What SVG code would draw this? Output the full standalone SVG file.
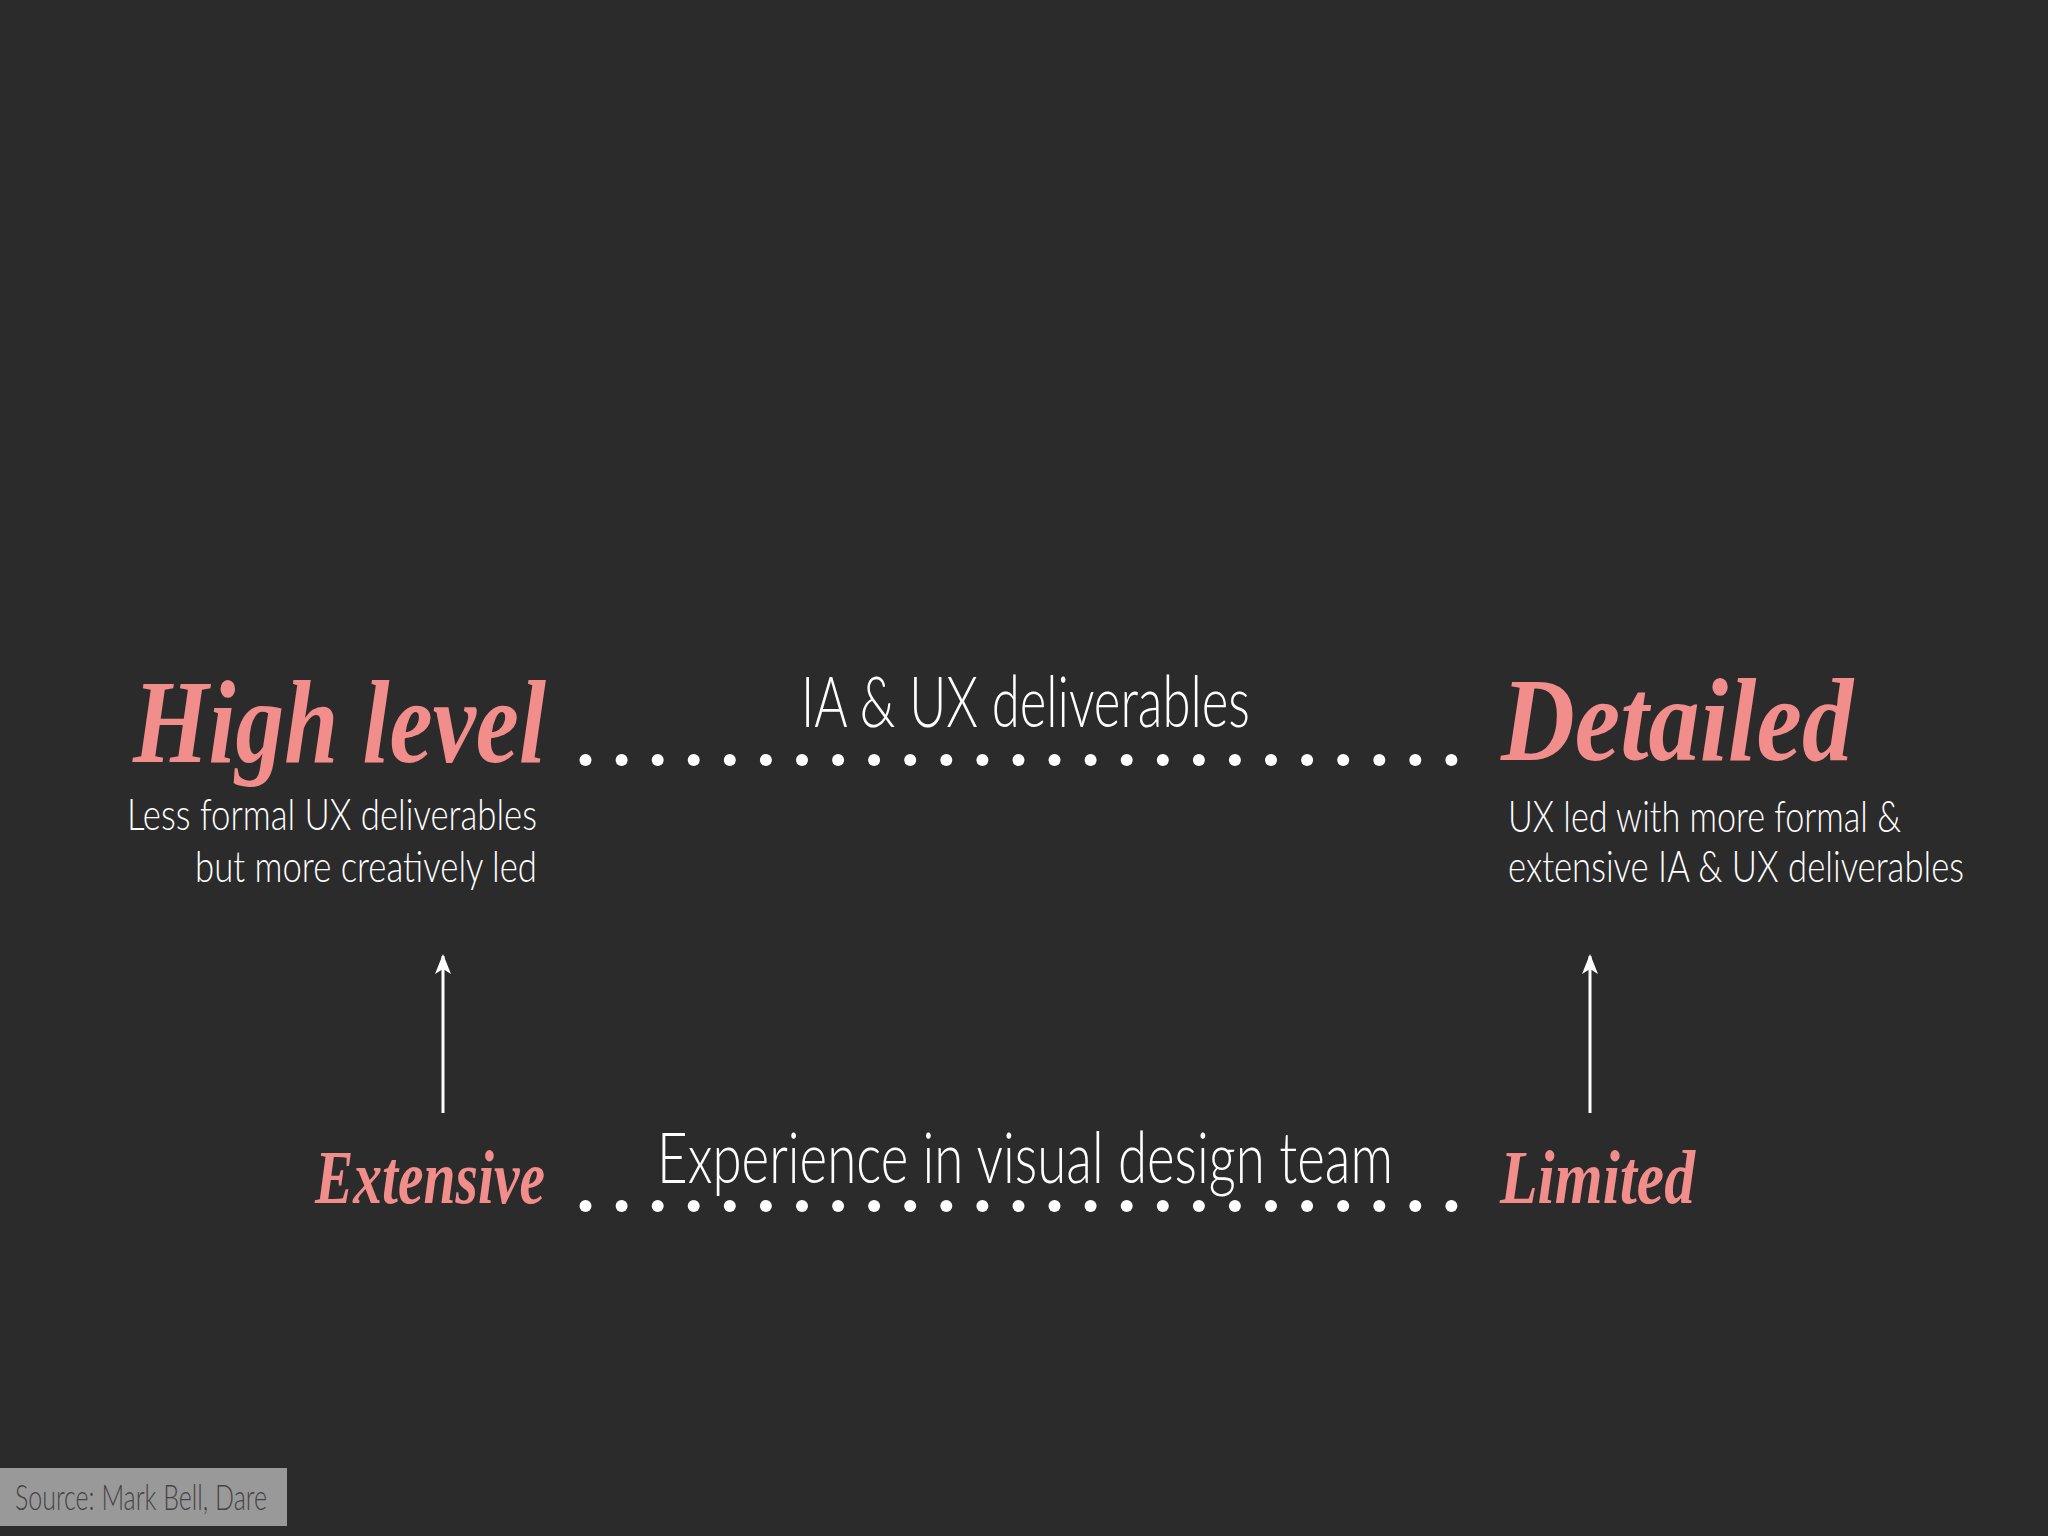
<svg xmlns="http://www.w3.org/2000/svg" width="2048" height="1536" viewBox="0 0 2048 1536">
  <defs>
    <style>
      .script { font-family: "Liberation Serif", "DejaVu Serif", serif; font-style: italic; font-weight: bold; fill: #F18D8B; }
      .thin { font-family: Lato, "Open Sans", "Liberation Sans", sans-serif; font-weight: 300; fill: #FFFFFF; }
      .dot { fill: #FFFFFF; }
      .arrow { stroke: #FFFFFF; stroke-width: 3; fill: none; }
    </style>
    <marker id="head" viewBox="0 0 20 20" refX="18" refY="10" markerWidth="20" markerHeight="20" markerUnits="userSpaceOnUse" orient="auto">
      <path d="M0,2 L20,10 L0,18 L5,10 Z" fill="#FFFFFF"/>
    </marker>
    <pattern id="dots" x="576.5" y="0" width="36.08" height="1536" patternUnits="userSpaceOnUse">
      <circle cx="9" cy="0" r="6" class="dot"/>
    </pattern>
  </defs>
  <rect width="2048" height="1536" fill="#2C2B2C"/>

  <g id="high-level">
    <text class="script" x="133" y="762" font-size="118" textLength="413" lengthAdjust="spacingAndGlyphs">High level</text>
    <text class="thin" x="537" y="830" font-size="44" text-anchor="end" textLength="410" lengthAdjust="spacingAndGlyphs">Less formal UX deliverables</text>
    <text class="thin" x="537" y="882" font-size="44" text-anchor="end" textLength="342" lengthAdjust="spacingAndGlyphs">but more creatively led</text>
  </g>

  <g id="detailed">
    <text class="script" x="1501" y="760" font-size="118" textLength="352" lengthAdjust="spacingAndGlyphs">Detailed</text>
    <text class="thin" x="1508" y="832" font-size="44" textLength="393" lengthAdjust="spacingAndGlyphs">UX led with more formal &amp;</text>
    <text class="thin" x="1508" y="882" font-size="44" textLength="456" lengthAdjust="spacingAndGlyphs">extensive IA &amp; UX deliverables</text>
  </g>

  <g id="ia-ux">
    <text class="thin" x="801" y="727" font-size="70" textLength="449" lengthAdjust="spacingAndGlyphs">IA &amp; UX deliverables</text>
  </g>

  <g id="experience">
    <text class="thin" x="657" y="1183" font-size="70" textLength="736" lengthAdjust="spacingAndGlyphs">Experience in visual design team</text>
  </g>

  <g id="extensive">
    <text class="script" x="315" y="1203" font-size="76" textLength="230" lengthAdjust="spacingAndGlyphs">Extensive</text>
  </g>

  <g id="limited">
    <text class="script" x="1500" y="1203" font-size="76" textLength="195" lengthAdjust="spacingAndGlyphs">Limited</text>
  </g>

  <g id="connectors">
    <g id="dots-top">
      <circle class="dot" cx="585.5" cy="760" r="6"/><circle class="dot" cx="621.6" cy="760" r="6"/><circle class="dot" cx="657.7" cy="760" r="6"/><circle class="dot" cx="693.7" cy="760" r="6"/><circle class="dot" cx="729.8" cy="760" r="6"/><circle class="dot" cx="765.9" cy="760" r="6"/><circle class="dot" cx="802.0" cy="760" r="6"/><circle class="dot" cx="838.1" cy="760" r="6"/><circle class="dot" cx="874.1" cy="760" r="6"/><circle class="dot" cx="910.2" cy="760" r="6"/><circle class="dot" cx="946.3" cy="760" r="6"/><circle class="dot" cx="982.4" cy="760" r="6"/><circle class="dot" cx="1018.5" cy="760" r="6"/><circle class="dot" cx="1054.5" cy="760" r="6"/><circle class="dot" cx="1090.6" cy="760" r="6"/><circle class="dot" cx="1126.7" cy="760" r="6"/><circle class="dot" cx="1162.8" cy="760" r="6"/><circle class="dot" cx="1198.9" cy="760" r="6"/><circle class="dot" cx="1234.9" cy="760" r="6"/><circle class="dot" cx="1271.0" cy="760" r="6"/><circle class="dot" cx="1307.1" cy="760" r="6"/><circle class="dot" cx="1343.2" cy="760" r="6"/><circle class="dot" cx="1379.3" cy="760" r="6"/><circle class="dot" cx="1415.3" cy="760" r="6"/><circle class="dot" cx="1451.4" cy="760" r="6"/>
    </g>
    <g id="dots-bottom">
      <circle class="dot" cx="585.5" cy="1206" r="6"/><circle class="dot" cx="621.6" cy="1206" r="6"/><circle class="dot" cx="657.7" cy="1206" r="6"/><circle class="dot" cx="693.7" cy="1206" r="6"/><circle class="dot" cx="729.8" cy="1206" r="6"/><circle class="dot" cx="765.9" cy="1206" r="6"/><circle class="dot" cx="802.0" cy="1206" r="6"/><circle class="dot" cx="838.1" cy="1206" r="6"/><circle class="dot" cx="874.1" cy="1206" r="6"/><circle class="dot" cx="910.2" cy="1206" r="6"/><circle class="dot" cx="946.3" cy="1206" r="6"/><circle class="dot" cx="982.4" cy="1206" r="6"/><circle class="dot" cx="1018.5" cy="1206" r="6"/><circle class="dot" cx="1054.5" cy="1206" r="6"/><circle class="dot" cx="1090.6" cy="1206" r="6"/><circle class="dot" cx="1126.7" cy="1206" r="6"/><circle class="dot" cx="1162.8" cy="1206" r="6"/><circle class="dot" cx="1198.9" cy="1206" r="6"/><circle class="dot" cx="1234.9" cy="1206" r="6"/><circle class="dot" cx="1271.0" cy="1206" r="6"/><circle class="dot" cx="1307.1" cy="1206" r="6"/><circle class="dot" cx="1343.2" cy="1206" r="6"/><circle class="dot" cx="1379.3" cy="1206" r="6"/><circle class="dot" cx="1415.3" cy="1206" r="6"/><circle class="dot" cx="1451.4" cy="1206" r="6"/>
    </g>
    <line class="arrow" x1="443" y1="1113" x2="443" y2="956" marker-end="url(#head)"/>
    <line class="arrow" x1="1590" y1="1113" x2="1590" y2="956" marker-end="url(#head)"/>
  </g>

  <g id="source">
    <rect x="0" y="1468" width="287" height="58" fill="#9A999A"/>
    <text x="15" y="1510" font-family="Lato, 'Liberation Sans', sans-serif" font-weight="300" font-size="36" fill="#454445" textLength="252" lengthAdjust="spacingAndGlyphs">Source: Mark Bell, Dare</text>
  </g>
</svg>
